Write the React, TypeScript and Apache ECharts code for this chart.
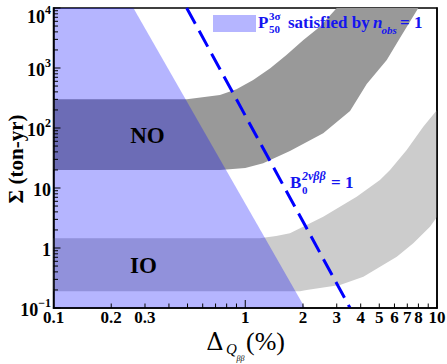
import React, { useEffect, useRef } from "react";
import * as echarts from "echarts";

// ---------- axis ranges & ticks ----------
const xMin = 0.1;
const xMax = 10;
const yMin = 0.1;
const yMax = 10000;

const xTickLabelValues = [0.1, 0.2, 0.3, 1, 2, 3, 4, 5, 6, 7, 8, 10];
const xTickLabels = ["0.1", "0.2", "0.3", "1", "2", "3", "4", "5", "6", "7", "8", "10"];
const xMajorTickValues = [0.1, 1, 10];
const xMinorTickValues = [0.2, 0.3, 0.4, 0.5, 0.6, 0.7, 0.8, 0.9, 2, 3, 4, 5, 6, 7, 8, 9];

const yTickValues = [0.1, 1, 10, 100, 1000, 10000];
const yTickBases = ["10", "1", "10", "10", "10", "10"];
const yTickExps = ["\u22121", "", "", "2", "3", "4"];
const yDecades = [0.1, 1, 10, 100, 1000];
const minorMultipliers = [2, 3, 4, 5, 6, 7, 8, 9];
const yMinorTickValues: number[] = [];
yDecades.forEach((d) => minorMultipliers.forEach((m) => yMinorTickValues.push(+(d * m).toPrecision(3))));

// ---------- regions ----------
// NO band (dark grey): upper edge, lower edge
const noUpperX = [0.1, 0.496, 0.738, 0.9, 1.1, 1.35, 1.64, 2.01, 2.45, 3.0];
const noUpperY = [300, 300, 355, 442, 631, 988, 1647, 2929, 4879, 10000];
const noLowerX = [0.1, 0.74, 1.0, 1.24, 1.71, 2.55, 3.52, 4.3, 5.47, 6.41, 7.99];
const noLowerY = [20, 20, 21.5, 25.8, 41.4, 81.6, 192, 541, 1359, 3162, 10000];

// IO band (light grey)
const ioUpperX = [0.1, 1.19, 1.45, 1.71, 2.55, 3.81, 5.04, 5.69, 6.95, 8.48, 10];
const ioUpperY = [1.45, 1.45, 1.58, 1.76, 3.32, 7.16, 13.6, 20, 43, 105, 200];
const ioLowerX = [0.1, 1.93, 2.09, 3.12, 4.13, 6.17, 7.52, 9.19, 10];
const ioLowerY = [0.19, 0.19, 0.2, 0.242, 0.332, 0.716, 1.2, 2.26, 3.29];

// P50 3sigma satisfied region (blue)
const blueX = [0.1, 0.1, 0.261, 2.05];
const blueY = [0.1, 10000, 10000, 0.1];

// B0 2nu-beta-beta = 1 line
const b2nuX = [0.495, 3.52];
const b2nuY = [10000, 0.1];

// ---------- styles ----------
const SERIF = '"Liberation Serif", serif';
const BLUE = "#0000ff";
const BLUE_TEXT = "#1414f0";
const BLUE_FILL = "rgba(0,0,255,0.29)";

const f = (size: number, bold = true, italic = false, family = SERIF) =>
  `${italic ? "italic " : ""}${bold ? "bold " : ""}${size}px ${family}`;

function bandPoints(upX: number[], upY: number[], loX: number[], loY: number[]) {
  const xs = [...upX, ...loX.slice().reverse()];
  const ys = [...upY, ...loY.slice().reverse()];
  return { xs, ys };
}

function polygonSeries(xs: number[], ys: number[], color: string, z: number) {
  return {
    type: "custom",
    coordinateSystem: "cartesian2d",
    silent: true,
    z,
    data: [[xs[0], ys[0]]],
    renderItem: (_params: any, api: any) => ({
      type: "polygon",
      shape: { points: xs.map((x, i) => api.coord([x, ys[i]])) },
      style: { fill: color },
    }),
  };
}

const noBand = bandPoints(noUpperX, noUpperY, noLowerX, noLowerY);
const ioBand = bandPoints(ioUpperX, ioUpperY, ioLowerX, ioLowerY);

const axisLineStyle = { color: "#000", width: 1.5 };

function txt(x: number, y: number, text: string, font: string, fill: string, align = "left", extra: any = {}) {
  return {
    type: "text",
    z: 100,
    x,
    y,
    ...extra,
    style: { text, font, fill, align, verticalAlign: "middle" },
  };
}

function buildOption() {
  return {
    animation: false,
    backgroundColor: "#ffffff",
    textStyle: { fontFamily: SERIF },
    grid: {
      left: 53.5,
      right: 10,
      top: 8,
      bottom: 56,
      show: true,
      borderColor: "#000",
      borderWidth: 1.5,
      backgroundColor: "transparent",
    },
    xAxis: [
      {
        type: "log",
        logBase: 10,
        min: xMin,
        max: xMax,
        z: 10,
        axisLine: { show: true, onZero: false, lineStyle: axisLineStyle },
        axisTick: { show: false },
        axisLabel: { show: false },
        splitLine: { show: false },
      },
    ],
    yAxis: [
      {
        type: "log",
        logBase: 10,
        min: yMin,
        max: yMax,
        position: "left",
        z: 10,
        axisLine: { show: true, onZero: false, lineStyle: axisLineStyle },
        axisTick: { show: false },
        axisLabel: { show: false },
        splitLine: { show: false },
      },
      {
        type: "log",
        logBase: 10,
        min: yMin,
        max: yMax,
        position: "right",
        z: 10,
        axisLine: { show: true, onZero: false, lineStyle: axisLineStyle },
        axisTick: { show: false },
        axisLabel: { show: false },
        splitLine: { show: false },
      },
    ],
    series: [
      polygonSeries(noBand.xs, noBand.ys, "#999999", 1),
      polygonSeries(ioBand.xs, ioBand.ys, "#cccccc", 1),
      polygonSeries(blueX, blueY, BLUE_FILL, 2),
      {
        type: "line",
        data: b2nuX.map((x, i) => [x, b2nuY[i]]),
        showSymbol: false,
        symbol: "none",
        silent: true,
        z: 3,
        lineStyle: { color: BLUE, width: 3, type: [18, 8] },
      },
      // x major ticks
      {
        type: "custom",
        coordinateSystem: "cartesian2d",
        silent: true,
        z: 12,
        data: xMajorTickValues.map((v) => [v, yMin]),
        renderItem: (_p: any, api: any) => {
          const c = api.coord([api.value(0), yMin]);
          return { type: "line", shape: { x1: c[0], y1: c[1], x2: c[0], y2: c[1] - 8 }, style: { stroke: "#000", lineWidth: 1 } };
        },
      },
      // x minor ticks
      {
        type: "custom",
        coordinateSystem: "cartesian2d",
        silent: true,
        z: 12,
        data: xMinorTickValues.map((v) => [v, yMin]),
        renderItem: (_p: any, api: any) => {
          const c = api.coord([api.value(0), yMin]);
          return { type: "line", shape: { x1: c[0], y1: c[1], x2: c[0], y2: c[1] - 4.5 }, style: { stroke: "#000", lineWidth: 1 } };
        },
      },
      // y major ticks
      {
        type: "custom",
        coordinateSystem: "cartesian2d",
        silent: true,
        z: 12,
        data: yTickValues.map((v) => [xMin, v]),
        renderItem: (_p: any, api: any) => {
          const c = api.coord([xMin, api.value(1)]);
          return { type: "line", shape: { x1: c[0], y1: c[1], x2: c[0] + 7, y2: c[1] }, style: { stroke: "#000", lineWidth: 1 } };
        },
      },
      // y minor ticks
      {
        type: "custom",
        coordinateSystem: "cartesian2d",
        silent: true,
        z: 12,
        data: yMinorTickValues.map((v) => [xMin, v]),
        renderItem: (_p: any, api: any) => {
          const c = api.coord([xMin, api.value(1)]);
          return { type: "line", shape: { x1: c[0], y1: c[1], x2: c[0] + 4.5, y2: c[1] }, style: { stroke: "#000", lineWidth: 1 } };
        },
      },
      // x tick labels
      {
        type: "custom",
        coordinateSystem: "cartesian2d",
        silent: true,
        z: 12,
        data: xTickLabelValues.map((v) => [v, yMin]),
        renderItem: (params: any, api: any) => {
          const c = api.coord([api.value(0), yMin]);
          return {
            type: "text",
            x: c[0],
            y: c[1] + 1,
            style: {
              text: xTickLabels[params.dataIndex],
              align: "center",
              verticalAlign: "top",
              font: f(17),
              fontFamily: SERIF,
              fontWeight: "bold",
              fontSize: 17,
              fill: "#000",
            },
          };
        },
      },
      // y tick labels
      {
        type: "custom",
        coordinateSystem: "cartesian2d",
        silent: true,
        z: 12,
        data: yTickValues.map((v) => [xMin, v]),
        renderItem: (params: any, api: any) => {
          const i = params.dataIndex;
          const c = api.coord([xMin, api.value(1)]);
          const exp = yTickExps[i];
          const text = exp ? `{b|${yTickBases[i]}}{s|${exp}}` : `{b|${yTickBases[i]}}`;
          const dy = i === yTickValues.length - 1 ? 7 : 0;
          return {
            type: "text",
            x: c[0] - 2.5,
            y: c[1] + dy,
            style: {
              text,
              align: "right",
              verticalAlign: "middle",
              font: f(18),
              rich: {
                b: { font: f(18), fontSize: 18, fontWeight: "bold", fontFamily: SERIF, lineHeight: 22, verticalAlign: "bottom", fill: "#000" },
                s: { font: f(12), fontSize: 12, fontWeight: "bold", fontFamily: SERIF, lineHeight: 8, verticalAlign: "top", fill: "#000" },
              },
            },
          };
        },
      },
    ],
    graphic: [
      // legend
      { type: "rect", z: 100, shape: { x: 213, y: 15, width: 43, height: 17 }, style: { fill: BLUE_FILL } },
      txt(258, 22.6, "P", f(17), BLUE_TEXT),
      txt(269, 16.3, "3σ", f(11), BLUE_TEXT),
      txt(269, 28.6, "50", f(11), BLUE_TEXT),
      txt(288, 22.6, "satisfied by", f(17), BLUE_TEXT),
      txt(373, 22.6, "n", f(17, true, true), BLUE_TEXT),
      txt(381.5, 29.6, "obs", f(11, true, true), BLUE_TEXT),
      txt(400, 22.6, "= 1", f(17), BLUE_TEXT),
      // B0 label
      txt(290, 182.6, "B", f(17), BLUE_TEXT),
      txt(302, 176.4, "2νββ", f(12, true, true), BLUE_TEXT),
      txt(302, 189.5, "0", f(11), BLUE_TEXT),
      txt(331, 182.6, "= 1", f(17), BLUE_TEXT),
      // NO / IO
      txt(147.5, 135.2, "NO", f(23), "#000", "center"),
      txt(143.5, 265.5, "IO", f(23), "#000", "center"),
      // y axis title
      txt(16, 159, "Σ (ton-yr)", f(21), "#000", "center", { rotation: Math.PI / 2 }),
      // x axis title
      txt(215, 341.5, "Δ", f(24, false, false, '"DejaVu Serif", serif'), "#000", "center"),
      txt(226, 348.5, "Q", f(15, false, true), "#000"),
      txt(236.5, 358.5, "ββ", f(8, false, true), "#000"),
      txt(246, 341, "(%)", f(26, false), "#000"),
    ],
  };
}

export default function App() {
  const ref = useRef<HTMLDivElement>(null);
  useEffect(() => {
    if (!ref.current) return;
    const chart = echarts.init(ref.current, null, { renderer: "svg" });
    chart.setOption(buildOption() as any);
    return () => chart.dispose();
  }, []);
  return (
    <div
      ref={ref}
      style={{ position: "fixed", left: 0, top: 0, width: 447, height: 364, background: "#fff" }}
    />
  );
}
